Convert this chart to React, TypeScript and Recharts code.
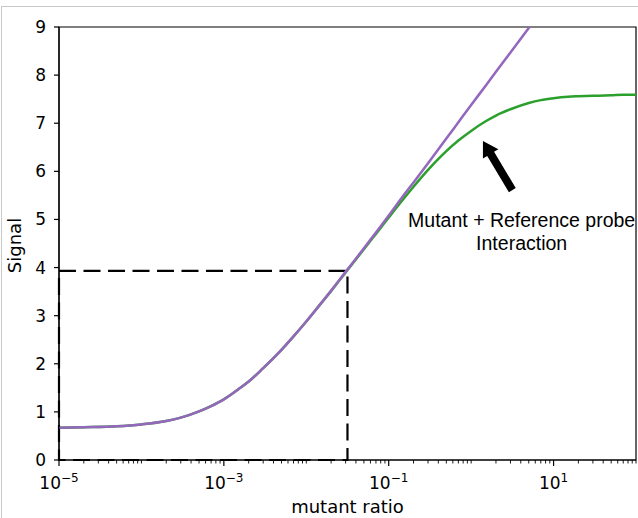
import React from 'react';
import {
  LineChart,
  Line,
  XAxis,
  YAxis,
  ReferenceArea,
  ReferenceLine,
  ReferenceDot,
  Label,
} from 'recharts';

// mutant ratio sample points (log axis)
const RATIOS = [
  1e-5, 2e-5, 5e-5, 1e-4, 2e-4, 3e-4, 5e-4, 7e-4, 1e-3, 1.5e-3, 2e-3, 3e-3,
  5e-3, 7e-3, 1e-2, 1.5e-2, 2e-2, 3e-2, 5e-2, 7e-2, 0.1, 0.15, 0.2, 0.3, 0.5,
  0.7, 1, 1.5, 2, 3, 5, 7, 10, 15, 20, 30, 50, 70, 100,
];

// purple: signal without probe interaction (runs off the top)
const SIGNAL_FREE = [
  0.67, 0.68, 0.7, 0.74, 0.81, 0.88, 1.01, 1.12, 1.26, 1.47, 1.63, 1.91,
  2.29, 2.57, 2.88, 3.25, 3.52, 3.91, 4.4, 4.73, 5.08, 5.49, 5.77, 6.17, 6.68,
  7.02, 7.38, 7.78, 8.07, 8.47, 8.98, 9.32, 9.68, 10.08, 10.37, 10.77, 11.29,
  11.63, 11.98,
];

// green: mutant + reference probe interaction (saturates)
const SIGNAL_INTERACTION = [
  0.67, 0.68, 0.7, 0.74, 0.81, 0.88, 1.01, 1.12, 1.26, 1.47, 1.63, 1.91,
  2.29, 2.57, 2.88, 3.25, 3.51, 3.9, 4.38, 4.7, 5.04, 5.42, 5.68, 6.03, 6.42,
  6.64, 6.84, 7.04, 7.16, 7.29, 7.42, 7.48, 7.52, 7.55, 7.56, 7.57, 7.58,
  7.59, 7.59,
];

const Y_TICKS = [0, 1, 2, 3, 4, 5, 6, 7, 8, 9];
const LABELED_EXPONENTS = [-5, -3, -1, 1];

// dashed guide box at the threshold
const GUIDE_RATIO = 0.0316;
const GUIDE_SIGNAL = 3.93;

const data = RATIOS.map((x, i) => ({
  x,
  free: SIGNAL_FREE[i],
  interaction: SIGNAL_INTERACTION[i],
}));

const xTicks: number[] = [];
for (let e = -5; e <= 1; e++) {
  for (let k = 1; k <= 9; k++) xTicks.push(k * Math.pow(10, e));
}
xTicks.push(100);

const FONT = 'DejaVu Sans, sans-serif';

const XTick = (props: any) => {
  const { x, y, payload } = props;
  const lg = Math.log10(payload.value);
  const e = Math.round(lg);
  const major = Math.abs(lg - e) < 1e-6 && LABELED_EXPONENTS.includes(e);
  return (
    <g>
      <line
        x1={x}
        x2={x}
        y1={y}
        y2={y + (major ? 6 : 3.5)}
        stroke="#000"
        strokeWidth={major ? 1.2 : 0.9}
      />
      {major && (
        <text x={x} y={y + 29} textAnchor="middle" fontSize={17} fontFamily={FONT} fill="#000">
          10
          <tspan dy={-7} fontSize={12}>
            {e < 0 ? `\u2212${-e}` : `${e}`}
          </tspan>
        </text>
      )}
    </g>
  );
};

const Arrow = (props: any) => {
  const { x1, y1, x2, y2 } = props;
  const dx = x2 - x1;
  const dy = y2 - y1;
  const len = Math.hypot(dx, dy);
  const ux = dx / len;
  const uy = dy / len;
  const nx = -uy;
  const ny = ux;
  const headLen = 15;
  const headHalf = 9;
  const shaftHalf = 4;
  const bx = x2 - ux * headLen;
  const by = y2 - uy * headLen;
  const pts = [
    [x1 + nx * shaftHalf, y1 + ny * shaftHalf],
    [bx + nx * shaftHalf, by + ny * shaftHalf],
    [bx + nx * headHalf, by + ny * headHalf],
    [x2, y2],
    [bx - nx * headHalf, by - ny * headHalf],
    [bx - nx * shaftHalf, by - ny * shaftHalf],
    [x1 - nx * shaftHalf, y1 - ny * shaftHalf],
  ];
  return <polygon points={pts.map((p) => p.join(',')).join(' ')} fill="#000" />;
};

const Annotation = (props: any) => {
  const { cx, cy } = props;
  return (
    <text
      x={cx}
      y={cy}
      textAnchor="middle"
      fontSize={19.5}
      fontFamily="Liberation Sans, Arial, sans-serif"
      fill="#000"
    >
      <tspan x={cx}>Mutant + Reference probe</tspan>
      <tspan x={cx} dy={23.3}>
        Interaction
      </tspan>
    </text>
  );
};

const App: React.FC = () => {
  return (
    <div style={{ position: 'absolute', left: 0, top: 0, width: 638, height: 518, background: '#fff' }}>
      <div
        style={{
          position: 'absolute',
          left: 1,
          top: 6,
          width: 637,
          height: 512,
          borderTop: '1px solid #c8c8c8',
          borderLeft: '1px solid #c8c8c8',
          boxSizing: 'border-box',
        }}
      />
      <LineChart
        width={638}
        height={518}
        data={data}
        margin={{ top: 27, right: 2, bottom: 0, left: 0 }}
        style={{ position: 'absolute', left: 0, top: 0 }}
      >
        <XAxis
          dataKey="x"
          type="number"
          scale="log"
          domain={[1e-5, 100]}
          allowDataOverflow
          ticks={xTicks}
          interval={0}
          height={58}
          tickSize={0}
          tickMargin={0}
          tickLine={false}
          tick={<XTick />}
          axisLine={{ stroke: '#000', strokeWidth: 1.2 }}
        >
          <Label
            content={(p: any) => {
              const vb = p.viewBox;
              return (
                <text
                  x={vb.x + vb.width / 2}
                  y={513}
                  textAnchor="middle"
                  fontSize={18}
                  fontFamily={FONT}
                  fill="#000"
                >
                  mutant ratio
                </text>
              );
            }}
          />
        </XAxis>
        <YAxis
          type="number"
          domain={[0, 9]}
          ticks={Y_TICKS}
          allowDataOverflow
          width={59}
          tickSize={5}
          tickMargin={8}
          tick={{ fontSize: 17, fontFamily: FONT, fill: '#000' }}
          tickLine={{ stroke: '#000', strokeWidth: 1.2 }}
          axisLine={{ stroke: '#000', strokeWidth: 1.2 }}
        >
          <Label
            content={(p: any) => {
              const vb = p.viewBox;
              const cy = vb.y + vb.height / 2 + 2;
              return (
                <text
                  x={21}
                  y={cy}
                  transform={`rotate(-90, 21, ${cy})`}
                  textAnchor="middle"
                  fontSize={18}
                  fontFamily={FONT}
                  fill="#000"
                >
                  Signal
                </text>
              );
            }}
          />
        </YAxis>
        <Line
          type="monotone"
          dataKey="interaction"
          stroke="#2ca02c"
          strokeWidth={2.5}
          dot={false}
          activeDot={false}
          isAnimationActive={false}
        />
        <Line
          type="monotone"
          dataKey="free"
          stroke="#9467bd"
          strokeWidth={2.5}
          dot={false}
          activeDot={false}
          isAnimationActive={false}
        />
        <ReferenceArea
          x1={1e-5}
          x2={GUIDE_RATIO}
          y1={0}
          y2={GUIDE_SIGNAL}
          fill="none"
          fillOpacity={0}
          stroke="#000"
          strokeWidth={2.2}
          strokeDasharray="17 7.5"
        />
        <ReferenceArea
          x1={1e-5}
          x2={100}
          y1={0}
          y2={9}
          fill="none"
          fillOpacity={0}
          stroke="#000"
          strokeWidth={1.2}
        />
        <ReferenceLine
          segment={[
            { x: 3.16, y: 5.61 },
            { x: 1.39, y: 6.63 },
          ]}
          shape={<Arrow />}
        />
        <ReferenceDot x={4.1} y={4.84} r={0} shape={<Annotation />} />
      </LineChart>
    </div>
  );
};

export default App;
